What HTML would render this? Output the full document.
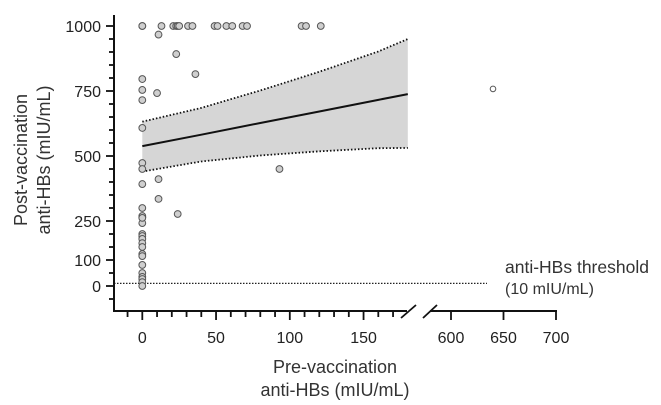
<!DOCTYPE html>
<html><head><meta charset="utf-8"><style>
html,body{margin:0;padding:0;background:#fff;}
svg{display:block;font-family:"Liberation Sans",Arial,sans-serif;}
</style></head><body>
<svg id="chart" width="661" height="405" viewBox="0 0 661 405" xmlns="http://www.w3.org/2000/svg">
<g id="band"></g>
<g id="axes"></g>
<g id="pts"></g>
<text transform="translate(27,160) rotate(-90)" text-anchor="middle" font-size="18" fill="#333">Post-vaccination</text>
<text transform="translate(50,160) rotate(-90)" text-anchor="middle" font-size="18" fill="#333">anti-HBs (mIU/mL)</text>
<text x="335" y="373" text-anchor="middle" font-size="18" fill="#333">Pre-vaccination</text>
<text x="335" y="396" text-anchor="middle" font-size="18" fill="#333">anti-HBs (mIU/mL)</text>
<text x="505" y="273" font-size="17.5" fill="#333">anti-HBs threshold</text>
<text x="505" y="294" font-size="16" fill="#333">(10 mIU/mL)</text>
</svg>
<script>
const yTicks=[0,100,250,500,750,1000];
const xTicksLeft=[0,50,100,150];
const xTicksRight=[600,650,700];
const threshold=10;
const fitX=[0,40,80,120,160,180];
const fitY=[538,582,627,671,716,738];
const ciUpper=[632,685,752,824,902,950];
const ciLower=[440,479,502,518,530,531];
const ptX=[0,13,21,23,24,25,31,34,49,51,57,61,68,71,108,111,121,
 11,23,36,0,0,10,0,0,0,0,93,0,11,11,24,0,0,0,
 0,0,0,0,0,0,0,0,0,0,0,0,0,0,0,0,640];
const ptY=[1000,1000,1000,1000,1000,1000,1000,1000,1000,1000,1000,1000,1000,1000,1000,1000,1000,
 967,892,815,796,754,742,715,608,473,450,450,392,411,335,277,300,265,242,
 269,262,200,192,181,165,150,123,115,81,50,35,27,15,0,1000,758];
const NS='http://www.w3.org/2000/svg';
function sy(v){return 286-v*0.26;}
function sx(v){return v<=180?142.3+v*1.475:451+(v-600)*1.05;}
function mk(t,a,p){const e=document.createElementNS(NS,t);for(const k in a)e.setAttribute(k,a[k]);p.appendChild(e);return e;}
const band=document.getElementById('band'),axes=document.getElementById('axes'),pts=document.getElementById('pts');
let d='';
fitX.forEach((x,i)=>{d+=(i?'L':'M')+sx(x)+','+sy(ciUpper[i]);});
for(let i=fitX.length-1;i>=0;i--)d+='L'+sx(fitX[i])+','+sy(ciLower[i]);
const poly=mk('path',{d:d+'Z',fill:'#d6d6d6',stroke:'none'},band);


function pl(arr,name,dash,w){let s='';fitX.forEach((x,i)=>{s+=(i?'L':'M')+sx(x)+','+sy(arr[i]);});
 const e=mk('path',{d:s,fill:'none',stroke:'#111','stroke-width':w},band);if(dash)e.setAttribute('stroke-dasharray',dash);
 
 }
pl(ciUpper,'ci-upper','1.5 2',1.8);
pl(ciLower,'ci-lower','1.5 2',1.8);
pl(fitY,'regression-line',null,2);
const th=mk('line',{x1:114,x2:487,y1:sy(threshold),y2:sy(threshold),stroke:'#222','stroke-width':1.2,'stroke-dasharray':'1.5 1.5'},axes);


mk('line',{x1:114,x2:114,y1:15,y2:312,stroke:'#111','stroke-width':2},axes);
for(let v=-50;v<=1000;v+=50){const maj=yTicks.includes(v);mk('line',{x1:maj?106:109,x2:114,y1:sy(v),y2:sy(v),stroke:'#111','stroke-width':1.8},axes);}
yTicks.forEach(v=>{const t=mk('text',{x:101,y:sy(v)+6,'text-anchor':'end','font-size':16,fill:'#222'},axes);t.textContent=v;
 
 });
mk('line',{x1:113,x2:407,y1:311,y2:311,stroke:'#111','stroke-width':2},axes);
mk('line',{x1:430,x2:557,y1:311,y2:311,stroke:'#111','stroke-width':2},axes);
mk('line',{x1:401,x2:416,y1:318,y2:305,stroke:'#111','stroke-width':1.8},axes);
mk('line',{x1:423,x2:437,y1:318,y2:305,stroke:'#111','stroke-width':1.8},axes);
for(let v=-10;v<=170;v+=10){const maj=xTicksLeft.includes(v);mk('line',{x1:sx(v),x2:sx(v),y1:311,y2:maj?320:317,stroke:'#111','stroke-width':1.8},axes);}
xTicksRight.forEach(v=>mk('line',{x1:sx(v),x2:sx(v),y1:311,y2:320,stroke:'#111','stroke-width':1.8},axes));
xTicksLeft.concat(xTicksRight).forEach(v=>{const t=mk('text',{x:sx(v),y:343,'text-anchor':'middle','font-size':16,fill:'#222'},axes);t.textContent=v;
 
 });
ptX.forEach((x,i)=>{const c=mk('circle',{cx:sx(x),cy:sy(ptY[i]),r:x>180?2.8:3.4,fill:x>180?'#fff':'#cfcfcf',stroke:'#555','stroke-width':1},pts);
 
 });
</script>
</body></html>
